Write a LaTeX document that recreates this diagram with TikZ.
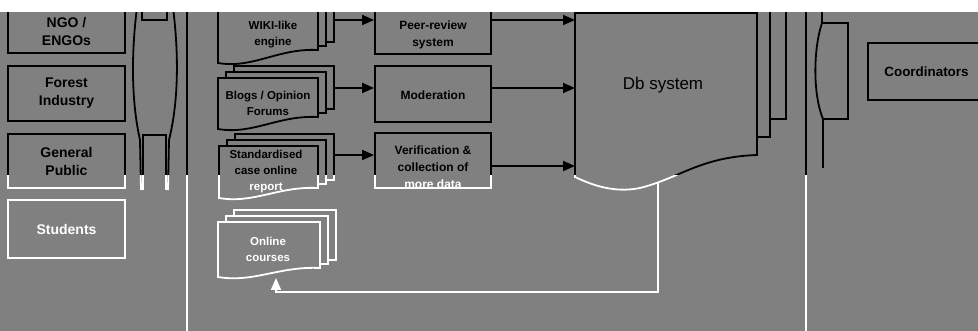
\documentclass[tikz,border=0pt]{standalone}
\usepackage{fontspec}
\setmainfont{Liberation Sans}
\usetikzlibrary{arrows.meta}
\definecolor{bg}{RGB}{128,128,128}
\colorlet{fg}{black}
\tikzset{
  ln/.style={draw=fg, line width=1.8pt},
  actor/.style={ln, minimum width=117pt, inner sep=0pt, align=center, text=fg, font=\bfseries\fontsize{14}{18}\selectfont},
  proc/.style={ln, minimum width=116pt, inner sep=0pt},
  proctext/.style={align=center, text=fg, inner sep=0pt, font=\bfseries\fontsize{12}{17}\selectfont},
  doctext/.style={align=center, text=fg, inner sep=0pt, font=\bfseries\fontsize{11.5}{16}\selectfont},
  arr/.style={ln, -{Triangle[length=12pt,width=10pt]}},
  page/.style={ln, fill=bg, line join=miter},
}
% x1, ytop, x2, y bottom left, y bottom right
\newcommand\mydocs[5]{%
  \draw[page] ({#1+16},{#2-12}) rectangle ({#3+16},{#5-8});
  \draw[page] ({#1+8},{#2-6}) rectangle ({#3+8},{#5-4});
  \draw[page] (#1,#2) -- (#3,#2) -- (#3,#5) .. controls ({#3-0.4*(#3-#1)},{#5-2}) and ({#1+0.35*(#3-#1)},{#4+6}) .. (#1,#4) -- cycle;
}
\newcommand\drawall{%
  % left actors
  \node[actor, minimum height=43pt] (ngo) at (66.5,31.5) {NGO /\\ENGOs};
  \node[actor, minimum height=55pt] (forest) at (66.5,93.5) {Forest\\Industry};
  \node[actor, minimum height=54pt] (public) at (66.5,161) {General\\Public};
  \node[actor, minimum height=58pt] (students) at (66.5,229) {Students};
  % left divider
  \draw[ln] (138,0) .. controls (131,50) and (131,100) .. (140,140) -- (141,190);
  \draw[ln] (172,0) .. controls (179,50) and (179,100) .. (169,140) -- (168,190);
  \draw[ln] (142,0) -- (142,20) -- (167,20) -- (167,0);
  \draw[ln] (143,190) -- (143,135) -- (166,135) -- (166,190);
  \draw[ln] (187,0) -- (187,331);
  % documents
  \mydocs{218}{10}{318}{63}{50}
  \node[doctext] (wiki) at (273,35) {WIKI-like\\engine};
  \mydocs{218}{78}{318}{129}{117}
  \node[doctext] (blogs) at (268,103) {Blogs / Opinion\\Forums};
  \mydocs{219}{146}{318}{198}{188}
  \node[doctext] (report) at (266,172) {Standardised\\case online\\report};
  \mydocs{218}{222}{320}{277}{268}
  \node[doctext] (online) at (268,249) {Online\\courses};
  % processes
  \node[proc, minimum height=44pt] (peer) at (433,32) {};
  \node[proctext] (peertext) at (433,35) {Peer-review\\system};
  \node[proc, minimum height=56pt] (mod) at (433,94) {};
  \node[proctext] (modtext) at (433,95) {Moderation};
  \node[proc, minimum height=55pt] (verif) at (433,160.5) {};
  \node[proctext] (veriftext) at (433,167) {Verification \&\\collection of\\more data};
  % Db system
  \draw[page] (602,-5) rectangle (786,119);
  \draw[page] (590,-5) rectangle (770,137);
  \draw[page] (575,13) -- (757,13) -- (757,155) .. controls (700,157) and (680,178) .. (640,188) .. controls (620,192) and (600,189) .. (575,177) -- cycle;
  \node[text=fg, font=\fontsize{17}{20}\selectfont] (db) at (663,85) {Db system};
  \coordinate (dbw) at (575,0);
  \coordinate (dbout) at (658,183);
  % arrows
  \coordinate (wikiR) at (334,20);
  \coordinate (blogsR) at (334,88);
  \coordinate (reportR) at (334,155);
  \coordinate (verifR) at (491,166);
  \draw[arr] (wikiR) -- (peer.west |- wikiR);
  \draw[arr] (blogsR) -- (mod.west |- blogsR);
  \draw[arr] (reportR) -- (verif.west |- reportR);
  \draw[arr] (peer.east |- wikiR) -- (dbw |- wikiR);
  \draw[arr] (mod.east |- blogsR) -- (dbw |- blogsR);
  \draw[arr] (verifR) -- (dbw |- verifR);
  \coordinate (ocin) at (276,278);
  \draw[arr] (dbout) |- (ocin |- 0,292) -- (ocin);
  % right side
  \draw[ln] (806,0) -- (806,331);
  \draw[ln] (822,0) -- (822,23) -- (848,23) -- (848,119) -- (823,119) -- (823,168);
  \draw[ln] (822,23) .. controls (813,50) and (813,95) .. (823,119);
  \node[ln, minimum width=117pt, minimum height=57pt, inner sep=0pt, text=fg, font=\bfseries\fontsize{13.4}{16}\selectfont] (coord) at (926.5,71.5) {Coordinators};
}
\begin{document}
\begin{tikzpicture}[x=1pt,y=-1pt]
  \useasboundingbox (0,0) rectangle (978,331);
  \fill[bg] (0,0) rectangle (978,331);
  \begin{scope}
    \clip (0,0) rectangle (978,176);
    \colorlet{fg}{black}
    \drawall
  \end{scope}
  \begin{scope}
    \clip (0,176) rectangle (978,331);
    \colorlet{fg}{white}
    \drawall
  \end{scope}
  \fill[white] (0,0) rectangle (978,12.5);
\end{tikzpicture}
\end{document}
